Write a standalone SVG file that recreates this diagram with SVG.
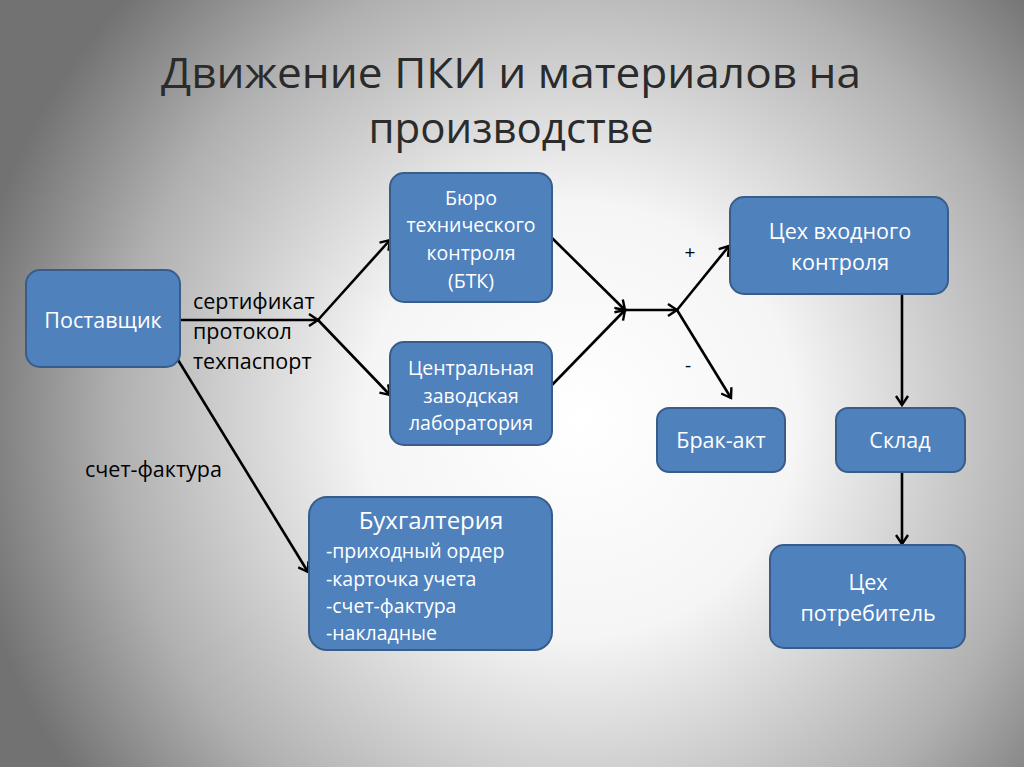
<svg xmlns="http://www.w3.org/2000/svg" width="1024" height="767" viewBox="0 0 1024 767">
<defs>
<radialGradient id="bg" cx="580" cy="420" r="620" gradientUnits="userSpaceOnUse">
<stop offset="0" stop-color="#ffffff"/>
<stop offset="0.35" stop-color="#f5f5f5"/>
<stop offset="0.75" stop-color="#b0b0b0"/>
<stop offset="1" stop-color="#727272"/>
</radialGradient>
<marker id="arr" markerWidth="14" markerHeight="14" refX="11" refY="7" orient="auto" markerUnits="userSpaceOnUse">
<path d="M2,1 L11,7 L2,13" fill="none" stroke="#000" stroke-width="2.4"/>
</marker>
<style>
.box{fill:#4f81bd;stroke:#385d8a;stroke-width:2}
.bt{fill:#fff;font-family:"Open Sans","Liberation Sans",sans-serif;font-size:19.5px;text-anchor:middle}
.bl{fill:#fff;font-family:"Open Sans","Liberation Sans",sans-serif;font-size:19.5px}
.lbl{fill:#000;font-family:"Open Sans","Liberation Sans",sans-serif;font-size:21.5px}
.ln{stroke:#000;stroke-width:2.6;fill:none;marker-end:url(#arr)}
.title{fill:#2b2b2b;font-family:"Open Sans","Liberation Sans",sans-serif;font-size:42px;text-anchor:middle}
</style>
</defs>
<rect width="1024" height="767" fill="url(#bg)"/>
<g id="title">
<text class="title" x="511" y="88" textLength="700" lengthAdjust="spacingAndGlyphs">Движение ПКИ и материалов на</text>
<text class="title" x="511" y="143">производстве</text>
</g>
<g id="connectors">
<line class="ln" x1="181" y1="320" x2="318" y2="320"/>
<line class="ln" x1="318" y1="320" x2="390" y2="240"/>
<line class="ln" x1="318" y1="320" x2="390" y2="395"/>
<line class="ln" x1="552" y1="238" x2="625" y2="310"/>
<line class="ln" x1="552" y1="385" x2="625" y2="310"/>
<line class="ln" x1="625" y1="310" x2="677" y2="310"/>
<line class="ln" x1="677" y1="310" x2="729" y2="246"/>
<line class="ln" x1="677" y1="310" x2="731" y2="398"/>
<line class="ln" x1="902" y1="294" x2="902" y2="405"/>
<line class="ln" x1="902" y1="472" x2="902" y2="544"/>
<line class="ln" x1="175" y1="355" x2="308" y2="572"/>
<text class="lbl" x="193" y="309">сертификат</text>
<text class="lbl" x="193" y="339">протокол</text>
<text class="lbl" x="193" y="369">техпаспорт</text>
<text class="lbl" x="85" y="477">счет-фактура</text>
<text class="lbl" x="690" y="259" text-anchor="middle" style="font-size:19px">+</text>
<text class="lbl" x="688" y="372" text-anchor="middle" style="font-size:19px">-</text>
</g>
<g id="postavshik">
<rect class="box" x="26" y="270" width="154" height="97" rx="14"/>
<text class="bt" x="103" y="328" style="font-size:21.5px">Поставщик</text>
</g>
<g id="btk">
<rect class="box" x="390" y="173" width="162" height="129" rx="14"/>
<text class="bt" x="471" y="205">Бюро</text>
<text class="bt" x="471" y="232">технического</text>
<text class="bt" x="471" y="260">контроля</text>
<text class="bt" x="471" y="288">(БТК)</text>
</g>
<g id="czl">
<rect class="box" x="390" y="342" width="162" height="103" rx="14"/>
<text class="bt" x="471" y="375">Центральная</text>
<text class="bt" x="471" y="403">заводская</text>
<text class="bt" x="471" y="430">лаборатория</text>
</g>
<g id="vhod">
<rect class="box" x="730" y="197" width="218" height="97" rx="14"/>
<text class="bt" x="840" y="239" style="font-size:21.5px">Цех входного</text>
<text class="bt" x="840" y="270" style="font-size:21.5px">контроля</text>
</g>
<g id="brak">
<rect class="box" x="657" y="408" width="128" height="64" rx="12"/>
<text class="bt" x="721" y="448" style="font-size:21.5px">Брак-акт</text>
</g>
<g id="sklad">
<rect class="box" x="836" y="408" width="129" height="64" rx="12"/>
<text class="bt" x="900" y="448" style="font-size:21.5px">Склад</text>
</g>
<g id="buh">
<rect class="box" x="309" y="497" width="243" height="153" rx="18"/>
<text class="bt" x="431" y="529" style="font-size:24px">Бухгалтерия</text>
<text class="bl" x="326" y="558">-приходный ордер</text>
<text class="bl" x="326" y="586">-карточка учета</text>
<text class="bl" x="326" y="613">-счет-фактура</text>
<text class="bl" x="326" y="640">-накладные</text>
</g>
<g id="potreb">
<rect class="box" x="770" y="545" width="195" height="103" rx="14"/>
<text class="bt" x="868" y="590" style="font-size:21.5px">Цех</text>
<text class="bt" x="868" y="621" style="font-size:21.5px">потребитель</text>
</g>
</svg>
